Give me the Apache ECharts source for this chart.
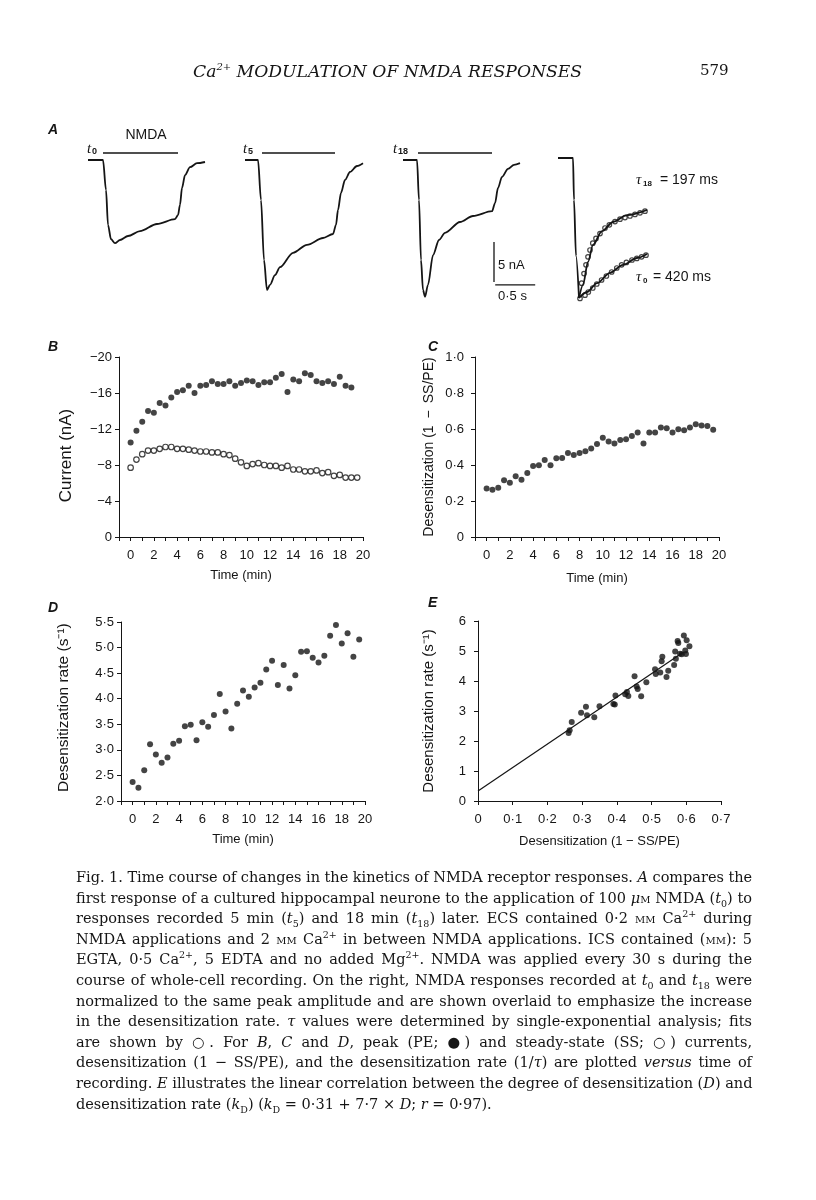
<!DOCTYPE html>
<html>
<head>
<meta charset="utf-8">
<script src="https://cdn.jsdelivr.net/npm/echarts@6/dist/echarts.min.js"></script>
<style>
  html, body { margin: 0; padding: 0; background: #fff; }
  #page { position: relative; width: 816px; height: 1200px; overflow: hidden; }
  #chart { position: absolute; left: 0; top: 0; width: 816px; height: 1200px; }
  .head { position: absolute; top: 61px; line-height: 22px; font: italic 17.2px 'DejaVu Serif', serif; color: #151515; }
  .head sup { font-size: 10px; line-height: 0; }
  .num { font-style: normal; font-size: 15px; }
  .cap { position: absolute; left: 76px; width: 676px; line-height: 20px; font-size: 14.5px; font-family: 'DejaVu Serif', serif; color: #151515; text-align: justify; text-align-last: justify; white-space: nowrap; }
  .cap.last { text-align-last: left; }
  .cap sub, .cap sup { font-size: 9.5px; line-height: 0; }
  .sc { font-variant: small-caps; }
</style>
</head>
<body>
<div id="page">
  <div id="chart"></div>
  <div class="head" style="left:193px">Ca<sup>2+</sup> MODULATION OF NMDA RESPONSES</div>
  <div class="head num" style="left:700px">579</div>
  <div class="cap" style="top:867px">Fig. 1. Time course of changes in the kinetics of NMDA receptor responses. <i>A</i> compares the</div>
  <div class="cap" style="top:887.6px">first response of a cultured hippocampal neurone to the application of 100 <i>μ</i><span class="sc">m</span> NMDA (<i>t</i><sub>0</sub>) to</div>
  <div class="cap" style="top:908.2px">responses recorded 5 min (<i>t</i><sub>5</sub>) and 18 min (<i>t</i><sub>18</sub>) later. ECS contained 0·2 <span class="sc">mm</span> Ca<sup>2+</sup> during</div>
  <div class="cap" style="top:928.8px">NMDA applications and 2 <span class="sc">mm</span> Ca<sup>2+</sup> in between NMDA applications. ICS contained (<span class="sc">mm</span>): 5</div>
  <div class="cap" style="top:949.4px">EGTA, 0·5 Ca<sup>2+</sup>, 5 EDTA and no added Mg<sup>2+</sup>. NMDA was applied every 30 s during the</div>
  <div class="cap" style="top:970px">course of whole-cell recording. On the right, NMDA responses recorded at <i>t</i><sub>0</sub> and <i>t</i><sub>18</sub> were</div>
  <div class="cap" style="top:990.6px">normalized to the same peak amplitude and are shown overlaid to emphasize the increase</div>
  <div class="cap" style="top:1011.2px">in the desensitization rate. <i>τ</i> values were determined by single-exponential analysis; fits</div>
  <div class="cap" style="top:1031.8px">are shown by ○. For <i>B</i>, <i>C</i> and <i>D</i>, peak (PE; ●) and steady-state (SS; ○) currents,</div>
  <div class="cap" style="top:1052.4px">desensitization (1 − SS/PE), and the desensitization rate (1/<i>τ</i>) are plotted <i>versus</i> time of</div>
  <div class="cap" style="top:1073px">recording. <i>E</i> illustrates the linear correlation between the degree of desensitization (<i>D</i>) and</div>
  <div class="cap last" style="top:1093.6px">desensitization rate (<i>k</i><sub>D</sub>) (<i>k</i><sub>D</sub> = 0·31 + 7·7 × <i>D</i>; <i>r</i> = 0·97).</div>
</div>
<script>
// ~~ Panel A: current traces, [time (s), current (nA)]
const traceT0 = [[0.1, 0], [0.2875, 0], [0.325, -3.75], [0.35, -8.1], [0.3875, -9.9], [0.4375, -10.4], [0.5, -10.0], [0.6, -9.5], [0.75, -8.9], [0.9625, -8.0], [1.1875, -7.4], [1.225, -6.9], [1.25, -5.6], [1.275, -3.5], [1.3125, -1.9], [1.375, -0.9], [1.4625, -0.4], [1.5625, -0.25]]
const traceT5 = [[2.0625, 0], [2.225, 0], [2.2625, -5], [2.3, -12.5], [2.3375, -16.25], [2.375, -15.6], [2.4375, -14.4], [2.5, -13.4], [2.6625, -11.6], [2.8375, -10.6], [3.0375, -9.75], [3.1625, -9.25], [3.2, -8.1], [3.225, -6.25], [3.2625, -4.1], [3.3125, -2.5], [3.375, -1.5], [3.4625, -0.75], [3.5375, -0.4]]
const traceT18 = [[4.0375, 0], [4.2125, 0], [4.2375, -5], [4.2625, -12.5], [4.2875, -16.25], [4.3125, -17.1], [4.35, -15.6], [4.4125, -11.9], [4.4875, -10], [4.5625, -9.1], [4.75, -7.75], [4.9125, -7], [5.15, -6.4], [5.1875, -5.4], [5.225, -3.5], [5.275, -2.1], [5.35, -1.1], [5.425, -0.6], [5.5, -0.4]]
const overlayBase = [[5.975, 0.25], [6.1625, 0.25], [6.175, -5], [6.2, -12], [6.2375, -17.25]]
const overlayT18 = [[6.2375, -17.25], [6.2875, -15.6], [6.35, -12.75], [6.4125, -10.6], [6.525, -8.9], [6.6625, -7.75], [6.8375, -6.9], [7.0875, -6.25]]
const overlayT0 = [[6.2375, -17.25], [6.3375, -16.5], [6.4625, -15.4], [6.625, -14.1], [6.7875, -13.1], [6.9625, -12.25], [7.0875, -11.75]]
const fitT18 = [[6.27, -15.4], [6.3, -14.2], [6.325, -13.1], [6.35, -12.1], [6.375, -11.25], [6.41, -10.4], [6.45, -9.8], [6.5, -9.2], [6.5625, -8.5], [6.617, -8.1], [6.6875, -7.7], [6.75, -7.4], [6.8125, -7.2], [6.875, -7.0], [6.9375, -6.8], [7.0, -6.6], [7.0625, -6.4]]
const fitT0 = [[6.25, -17.3], [6.3125, -16.9], [6.354, -16.5], [6.41, -16.0], [6.46, -15.5], [6.52, -15.0], [6.58, -14.5], [6.646, -14.0], [6.71, -13.5], [6.77, -13.1], [6.83, -12.8], [6.9, -12.5], [6.96, -12.3], [7.02, -12.1], [7.075, -11.9]]
const nmdaBars = [[[0.2875, 0.875], [1.225, 0.875]], [[2.275, 0.875], [3.1875, 0.875]], [[4.225, 0.875], [5.15, 0.875]]]
const scaleBarV = [[5.175, -10.25], [5.175, -15.25]] // 5 nA
const scaleBarH = [[5.19, -15.6], [5.69, -15.6]] // 0.5 s

// ~~ Panels B-D: one response every 30 s
const timeMin = [0, 0.5, 1, 1.5, 2, 2.5, 3, 3.5, 4, 4.5, 5, 5.5, 6, 6.5, 7, 7.5, 8, 8.5, 9, 9.5, 10, 10.5, 11, 11.5, 12, 12.5, 13, 13.5, 14, 14.5, 15, 15.5, 16, 16.5, 17, 17.5, 18, 18.5, 19, 19.5]
const peakCurrent = [-10.5, -11.8, -12.8, -14.0, -13.8, -14.9, -14.6, -15.5, -16.1, -16.3, -16.8, -16.0, -16.8, -16.9, -17.3, -17.0, -17.0, -17.3, -16.8, -17.1, -17.4, -17.3, -16.9, -17.2, -17.2, -17.7, -18.1, -16.1, -17.5, -17.3, -18.2, -18.0, -17.3, -17.1, -17.3, -17.0, -17.8, -16.8, -16.6]
const steadyCurrent = [-7.7, -8.6, -9.2, -9.6, -9.6, -9.8, -10.0, -10.0, -9.8, -9.8, -9.7, -9.6, -9.5, -9.5, -9.4, -9.4, -9.2, -9.1, -8.7, -8.3, -7.9, -8.1, -8.2, -8.0, -7.9, -7.9, -7.7, -7.9, -7.5, -7.5, -7.3, -7.3, -7.4, -7.1, -7.2, -6.8, -6.9, -6.6, -6.6, -6.6]
const desens = [0.27, 0.263, 0.274, 0.315, 0.302, 0.337, 0.318, 0.356, 0.394, 0.398, 0.428, 0.398, 0.437, 0.439, 0.467, 0.456, 0.467, 0.476, 0.491, 0.517, 0.552, 0.531, 0.52, 0.539, 0.543, 0.561, 0.58, 0.52, 0.58, 0.58, 0.609, 0.604, 0.581, 0.598, 0.593, 0.609, 0.626, 0.619, 0.617, 0.596]
const desensRate = [2.37, 2.26, 2.6, 3.11, 2.91, 2.75, 2.85, 3.12, 3.18, 3.46, 3.49, 3.19, 3.54, 3.45, 3.68, 4.09, 3.75, 3.42, 3.9, 4.16, 4.04, 4.22, 4.31, 4.57, 4.74, 4.27, 4.66, 4.2, 4.46, 4.92, 4.93, 4.8, 4.71, 4.84, 5.23, 5.44, 5.08, 5.28, 4.82, 5.16]

// ~~ Panel E: rate vs desensitization
const desensE = [0.261, 0.264, 0.27, 0.297, 0.311, 0.314, 0.335, 0.35, 0.39, 0.394, 0.396, 0.424, 0.429, 0.433, 0.451, 0.457, 0.46, 0.47, 0.485, 0.51, 0.512, 0.525, 0.529, 0.531, 0.543, 0.548, 0.565, 0.568, 0.57, 0.575, 0.577, 0.582, 0.587, 0.593, 0.597, 0.599, 0.601, 0.609]
const rateE = [2.27, 2.36, 2.63, 2.94, 3.14, 2.86, 2.79, 3.16, 3.23, 3.22, 3.52, 3.56, 3.63, 3.5, 4.16, 3.82, 3.73, 3.49, 3.96, 4.39, 4.23, 4.28, 4.66, 4.81, 4.13, 4.34, 4.53, 4.98, 4.74, 5.33, 5.27, 4.91, 4.89, 5.52, 5.02, 4.9, 5.36, 5.16]
const fitLineX = [0, 0.59]
const fitLineY = [0.33, 4.95]

const INK = '#151515'
const FONT = '"Liberation Sans", Arial, Helvetica, sans-serif'
const SERIF = '"Liberation Serif", "Times New Roman", serif'

const pairs = (xs, ys) => ys.map((y, i) => [xs[i], y])
const dot = (v) => String(v).replace('.', '·')

const axisBase = (extra) => ({
  type: 'value',
  axisLine: { onZero: false, lineStyle: { color: INK, width: 1 } },
  axisTick: { show: true, length: 4, lineStyle: { color: INK, width: 1 } },
  axisLabel: { color: INK, fontSize: 13, fontFamily: FONT },
  splitLine: { show: false },
  nameLocation: 'middle',
  nameTextStyle: { color: INK, fontSize: 13, fontFamily: FONT },
  ...extra,
})

const yName = (size) => ({ color: INK, fontSize: size, fontFamily: FONT })

const timeAxis = (gridIndex, nameGap) =>
  axisBase({
    gridIndex,
    min: -1,
    max: 20,
    interval: 1,
    name: 'Time (min)',
    nameGap,
    axisLabel: {
      color: INK,
      fontSize: 13,
      fontFamily: FONT,
      margin: 12,
      formatter: (v) => (v >= 0 && v % 2 === 0 ? String(v) : ''),
    },
  })

const traceLine = (data) => ({
  type: 'line',
  xAxisIndex: 0,
  yAxisIndex: 0,
  data,
  showSymbol: false,
  smooth: 0.3,
  smoothMonotone: 'x',
  lineStyle: { color: INK, width: 1.8 },
  silent: true,
})

const straight = (data, xi, w) => ({
  type: 'line',
  xAxisIndex: xi,
  yAxisIndex: xi,
  data,
  showSymbol: false,
  lineStyle: { color: INK, width: w || 1.2 },
  silent: true,
})

const filledDots = (data, xi) => ({
  type: 'scatter',
  xAxisIndex: xi,
  yAxisIndex: xi,
  data,
  symbol: 'circle',
  symbolSize: 6,
  itemStyle: { color: INK },
})

const openDots = (data, xi, size) => ({
  type: 'scatter',
  xAxisIndex: xi,
  yAxisIndex: xi,
  data,
  symbol: 'circle',
  symbolSize: size || 5.5,
  itemStyle: { color: '#fff', borderColor: INK, borderWidth: 1.2 },
})

const txt = (text, x, y, opts) => ({
  type: 'text',
  x,
  y,
  style: {
    text,
    fill: INK,
    font: (opts && opts.font) || `13px ${FONT}`,
    textAlign: (opts && opts.align) || 'left',
    textVerticalAlign: 'middle',
  },
})

const option = {
  animation: false,
  backgroundColor: '#fff',
  grid: [
    { left: 80, top: 140, width: 640, height: 160, outerBoundsMode: 'none' },
    { left: 119, top: 357, width: 244, height: 180, outerBoundsMode: 'none' },
    { left: 475, top: 357, width: 244, height: 180, outerBoundsMode: 'none' },
    { left: 121, top: 622, width: 244, height: 179, outerBoundsMode: 'none' },
    { left: 478, top: 621, width: 243, height: 180, outerBoundsMode: 'none' },
  ],
  xAxis: [
    { type: 'value', gridIndex: 0, min: 0, max: 8, show: false },
    timeAxis(1, 32),
    timeAxis(2, 35),
    timeAxis(3, 32),
    axisBase({
      gridIndex: 4,
      min: 0,
      max: 0.7,
      interval: 0.1,
      name: 'Desensitization (1 − SS/PE)',
      nameGap: 34,
      axisLabel: { color: INK, fontSize: 13, fontFamily: FONT, margin: 12, formatter: (v) => (v === 0 ? '0' : dot(v.toFixed(1))) },
    }),
  ],
  yAxis: [
    { type: 'value', gridIndex: 0, min: -17.5, max: 2.5, show: false },
    axisBase({
      gridIndex: 1,
      min: -20,
      max: 0,
      interval: 4,
      inverse: true,
      name: 'Current (nA)\u2002\u2002',
      nameGap: 44,
      nameTextStyle: yName(17),
      axisLabel: { color: INK, fontSize: 13, fontFamily: FONT, margin: 7, formatter: (v) => (v === 0 ? '0' : '−' + Math.abs(v)) },
    }),
    axisBase({
      gridIndex: 2,
      min: 0,
      max: 1,
      interval: 0.2,
      name: 'Desensitization (1\u2002−\u2002SS/PE)',
      nameGap: 39,
      nameTextStyle: yName(14),
      axisLabel: { color: INK, fontSize: 13, fontFamily: FONT, margin: 11, formatter: (v) => (v === 0 ? '0' : dot(v.toFixed(1))) },
    }),
    axisBase({
      gridIndex: 3,
      min: 2,
      max: 5.5,
      interval: 0.5,
      name: '\u2002Desensitization rate (s⁻¹)',
      nameGap: 49,
      nameTextStyle: yName(15.5),
      axisLabel: { color: INK, fontSize: 13, fontFamily: FONT, margin: 7, formatter: (v) => dot(v.toFixed(1)) },
    }),
    axisBase({
      gridIndex: 4,
      min: 0,
      max: 6,
      interval: 1,
      name: 'Desensitization rate (s⁻¹)',
      nameGap: 42,
      nameTextStyle: yName(15),
      axisLabel: { color: INK, fontSize: 13, fontFamily: FONT, margin: 12 },
    }),
  ],
  series: [
    // A
    traceLine(traceT0),
    traceLine(traceT5),
    traceLine(traceT18),
    traceLine(overlayBase),
    traceLine(overlayT18),
    traceLine(overlayT0),
    openDots(fitT18, 0, 4.5),
    openDots(fitT0, 0, 4.5),
    ...nmdaBars.map((b) => straight(b, 0, 1.3)),
    straight(scaleBarV, 0, 1.3),
    straight(scaleBarH, 0, 1.3),
    // B
    filledDots(pairs(timeMin, peakCurrent), 1),
    openDots(pairs(timeMin, steadyCurrent), 1, 5.5),
    // C
    filledDots(pairs(timeMin, desens), 2),
    // D
    filledDots(pairs(timeMin, desensRate), 3),
    // E
    straight(pairs(fitLineX, fitLineY), 4, 1.2),
    filledDots(pairs(desensE, rateE), 4),
  ],
  graphic: [
    txt('A', 48, 130, { font: `italic bold 14px ${FONT}` }),
    txt('B', 48, 347, { font: `italic bold 14px ${FONT}` }),
    txt('C', 428, 347, { font: `italic bold 14px ${FONT}` }),
    txt('D', 48, 608, { font: `italic bold 14px ${FONT}` }),
    txt('E', 428, 603, { font: `italic bold 14px ${FONT}` }),
    txt('NMDA', 146, 135, { font: `14px ${FONT}`, align: 'center' }),
    txt('t', 87, 149, { font: `italic 15px ${SERIF}` }),
    txt('0', 92, 152, { font: `bold 9px ${FONT}` }),
    txt('t', 243, 149, { font: `italic 15px ${SERIF}` }),
    txt('5', 248, 152, { font: `bold 9px ${FONT}` }),
    txt('t', 393, 149, { font: `italic 15px ${SERIF}` }),
    txt('18', 398, 152, { font: `bold 9px ${FONT}` }),
    txt('5 nA', 498, 265, { font: `13px ${FONT}` }),
    txt('0·5 s', 498, 296, { font: `13px ${FONT}` }),
    txt('τ', 636, 180, { font: `italic 15px ${SERIF}` }),
    txt('18', 643, 184, { font: `bold 8px ${FONT}` }),
    txt('= 197 ms', 660, 180, { font: `14px ${FONT}` }),
    txt('τ', 636, 277, { font: `italic 15px ${SERIF}` }),
    txt('0', 643, 281, { font: `bold 8px ${FONT}` }),
    txt('= 420 ms', 653, 277, { font: `14px ${FONT}` }),
  ],
}

const c = echarts.init(document.getElementById('chart'))
c.setOption(option)

// squeeze caption lines that are wider than the column
document.querySelectorAll('.cap').forEach((el) => {
  const over = el.scrollWidth - el.clientWidth
  if (over > 0) el.style.letterSpacing = (-over / el.textContent.length).toFixed(3) + 'px'
})
</script>
</body>
</html>
